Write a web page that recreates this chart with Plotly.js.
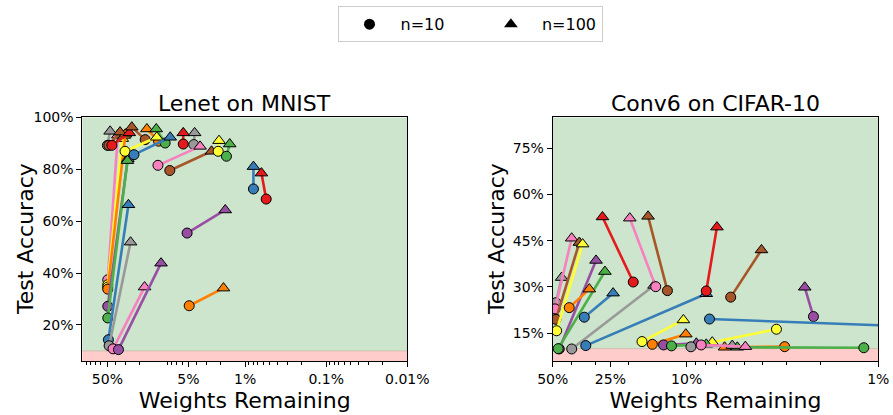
<!DOCTYPE html>
<html>
<head>
<meta charset="utf-8">
<script src="https://cdn.plot.ly/plotly-3.0.1.min.js"></script>
<style>html,body{margin:0;padding:0;background:#fff;} #chart{width:893px;height:415px;}</style>
</head>
<body>
<div id="chart"></div>
<script>
// ---- Data: Lenet on MNIST (weights remaining %, test accuracy %) ----
const lenetColors = ['pink','yellow','yellow','orange','purple','green','blue','gray','pink','purple',
  'gray','brown','red','brown','orange','green','yellow','blue','red','gray','pink','brown','yellow','green',
  'purple','orange','blue','red'];
const lenetX10  = [49.5,49.5,49.5,49.5,49.5,49.5,48.6,47.6,42.6,36.5,
  50,48,44,17.1,11.7,9.7,30.3,23.5,5.8,4.3,11.9,8.5,2.15,1.7,
  5.2,4.9,0.79,0.55];
const lenetY10  = [37.4,35.5,34.6,33.8,27.2,22.7,14.3,12.0,10.8,10.5,
  89.2,89.2,89.2,91.4,90.8,90.1,86.9,85.6,89.7,89.5,81.5,79.5,86.9,85.0,
  55.4,27.4,72.4,68.5];
const lenetX100 = [37.2,32.8,31,30,28,28.3,27.5,25.9,17.4,10.9,
  46.3,34.9,26.8,25.0,16.3,12.5,12.3,8.4,5.8,4.2,3.6,2.6,2.1,1.55,
  1.76,1.85,0.79,0.63];
const lenetY100 = [93.1,91.8,93,93.5,84,83.3,66.3,51.9,34.6,43.8,
  94.6,94.3,94.0,96.2,95.5,95.5,92.3,92.3,94.0,94.0,88.8,86.9,91.0,89.7,
  64.3,34.2,81.0,78.5];

// ---- Data: Conv6 on CIFAR-10 ----
const convColors = ['gray','pink','brown','yellow','purple','green','orange','blue','gray','blue',
  'red','pink','brown','red','brown','purple','blue','yellow','orange','green',
  'yellow','orange','purple','green','gray','pink'];
const convX10  = [48.1,48.6,48.1,47.7,46.2,46.8,41.0,34.2,39.8,33.6,
  19.0,14.5,12.6,7.9,5.89,2.18,7.6,3.4,3.08,1.19,
  17.1,15.1,13.2,12.0,9.5,8.4];
const convY10  = [24.9,22.9,19.5,15.8,9.9,10.0,23.3,20.2,9.9,11.0,
  31.6,30.1,28.8,28.7,26.7,20.4,19.6,16.3,10.65,10.3,
  12.3,11.4,11.2,10.9,10.6,11.2];
const convX100 = [44.9,39.8,36.3,34.9,29.7,26.7,32.2,24.2,14.8,7.9,
  27.5,19.8,15.9,6.95,4.07,2.42,0.5,7.35,6.34,5.44,
  10.4,10.1,8.9,7.9,5.78,4.94];
const convY100 = [33.05,45.8,44.4,43.9,38.6,35.0,29.3,28.0,30.5,27.8,
  52.7,52.3,52.9,49.4,42.0,29.9,16.9,12.1,10.45,10.45,
  19.3,14.7,11.75,11.4,11.0,10.65];

// ---- Tick labels ----
const lenetXTicks = [50,5,1,0.1,0.01];
const lenetXText  = ['50%','5%','1%','0.1%','0.01%'];
const convXTicks  = [50,25,10,1];
const convXText   = ['50%','25%','10%','1%'];
const lenetYTicks = [20,40,60,80,100];
const convYTicks  = [15,30,45,60,75];
const legendNames = ['n=10','n=100'];

const palette = {red:'#e41a1c',blue:'#377eb8',green:'#4daf4a',purple:'#984ea3',orange:'#ff7f00',
  yellow:'#ffff33',brown:'#a65628',pink:'#f781bf',gray:'#999999'};

const traces = [];
function addPairs(colors, x10, y10, x100, y100, xa, ya){
  for(let i=0;i<colors.length;i++){
    const c = palette[colors[i]];
    traces.push({
      type:'scatter', mode:'lines+markers', xaxis:xa, yaxis:ya, showlegend:false, hoverinfo:'skip',
      opacity:1,
      x:[x10[i], x100[i]], y:[y10[i], y100[i]],
      line:{color:c, width:2.6},
      marker:{symbol:['circle','triangle-up'], size:[10,11], color:c, opacity:1, line:{color:'#000', width:1}}
    });
  }
}
addPairs(lenetColors, lenetX10, lenetY10, lenetX100, lenetY100, 'x', 'y');
addPairs(convColors, convX10, convY10, convX100, convY100, 'x2', 'y2');

const pad = '\u00a0'.repeat(6);
traces.push({type:'scatter', mode:'markers', x:[null], y:[null], name:legendNames[0] + pad, xaxis:'x', yaxis:'y',
  marker:{symbol:'circle', size:11, color:'#000'}});
traces.push({type:'scatter', mode:'markers', x:[null], y:[null], name:legendNames[1], xaxis:'x', yaxis:'y',
  marker:{symbol:'triangle-up', size:12, color:'#000'}});

const font = {family:'DejaVu Sans, sans-serif', color:'#000'};
const yBot = (415-361.3)/415, yTop = (415-117.3)/415;
function minorVals(lo, hi){
  const v=[];
  for(let e=lo;e<=hi;e++){ for(let m=2;m<=9;m++){ v.push(m*Math.pow(10,e)); } }
  return v;
}
const axBase = {showline:true, mirror:true, linecolor:'#000', linewidth:1, ticks:'outside', ticklen:5,
  tickcolor:'#000', showgrid:false, zeroline:false, tickfont:{...font, size:14}};

const layout = {
  width:893, height:415, margin:{l:0,r:0,t:0,b:0},
  paper_bgcolor:'#fff', plot_bgcolor:'#fff', font:font,
  showlegend:true,
  legend:{orientation:'h', x:470/893, xanchor:'center', y:0.985, yanchor:'top',
    bordercolor:'#cccccc', borderwidth:1, font:{...font, size:16}, bgcolor:'#fff',
    itemwidth:52},
  xaxis:{...axBase, domain:[82.3/893, 407.3/893], type:'log', range:[Math.log10(102), -2],
    tickvals:lenetXTicks, ticktext:lenetXText,
    minor:{tickvals:minorVals(-4,1), ticks:'outside', ticklen:2.5, tickcolor:'#000'},
    title:{text:'Weights Remaining', font:{...font, size:22}, standoff:6}, anchor:'y'},
  yaxis:{...axBase, domain:[yBot, yTop], range:[6,100], tickvals:lenetYTicks,
    ticktext:lenetYTicks.map(v=>v+'%'), anchor:'x'},
  xaxis2:{...axBase, domain:[552.7/893, 878.3/893], type:'log', range:[Math.log10(50), 0],
    tickvals:convXTicks, ticktext:convXText,
    minor:{tickvals:minorVals(0,1), ticks:'outside', ticklen:2.5, tickcolor:'#000'},
    title:{text:'Weights Remaining', font:{...font, size:22}, standoff:6}, anchor:'y2'},
  yaxis2:{...axBase, domain:[yBot, yTop], range:[5.9,85], tickvals:convYTicks,
    ticktext:convYTicks.map(v=>v+'%'), anchor:'x2'},
  shapes:[
    {type:'rect', layer:'below', xref:'x domain', yref:'y', x0:0, x1:1, y0:10, y1:100, fillcolor:'#cde5cd', line:{width:0}},
    {type:'rect', layer:'below', xref:'x domain', yref:'y', x0:0, x1:1, y0:6, y1:10, fillcolor:'#ffcccc', line:{width:0}},
    {type:'line', layer:'below', xref:'x domain', yref:'y', x0:0, x1:1, y0:10, y1:10, line:{color:'#cdbfae', width:1}},
    {type:'rect', layer:'below', xref:'x2 domain', yref:'y2', x0:0, x1:1, y0:10, y1:85, fillcolor:'#cde5cd', line:{width:0}},
    {type:'rect', layer:'below', xref:'x2 domain', yref:'y2', x0:0, x1:1, y0:5.9, y1:10, fillcolor:'#ffcccc', line:{width:0}},
    {type:'line', layer:'below', xref:'x2 domain', yref:'y2', x0:0, x1:1, y0:10, y1:10, line:{color:'#cdbfae', width:1}}
  ],
  annotations:[
    {text:'Lenet on MNIST', xref:'x domain', x:0.5, yref:'paper', y:(415-104)/415, yanchor:'middle',
      showarrow:false, font:{...font, size:22}},
    {text:'Conv6 on CIFAR-10', xref:'x2 domain', x:0.5, yref:'paper', y:(415-104)/415, yanchor:'middle',
      showarrow:false, font:{...font, size:22}},
    {text:'Test Accuracy', xref:'paper', x:25/893, xanchor:'center', yref:'paper', y:(415-239)/415, yanchor:'middle',
      textangle:-90, showarrow:false, font:{...font, size:22}},
    {text:'Test Accuracy', xref:'paper', x:496/893, xanchor:'center', yref:'paper', y:(415-239)/415, yanchor:'middle',
      textangle:-90, showarrow:false, font:{...font, size:22}}
  ]
};

Plotly.newPlot('chart', traces, layout, {staticPlot:true, displayModeBar:false});
</script>
</body>
</html>
